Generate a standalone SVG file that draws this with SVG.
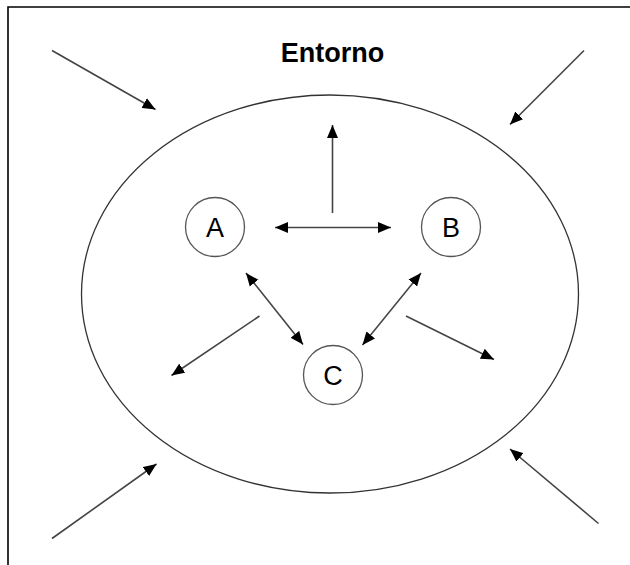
<svg xmlns="http://www.w3.org/2000/svg" width="630" height="565" viewBox="0 0 630 565">
<defs>
<marker id="ah" markerUnits="userSpaceOnUse" markerWidth="14" markerHeight="12" refX="13" refY="6" orient="auto-start-reverse" viewBox="0 0 14 12">
<path d="M0,0.5 L13,6 L0,11.5 Z" fill="#000"/>
</marker>
<style>
.c{fill:#fff;stroke:#555;stroke-width:1.3}
.t{font-family:"Liberation Sans",Arial,sans-serif;font-size:27px;fill:#000;text-anchor:middle}
.a{stroke:#444;stroke-width:1.6;fill:none;marker-end:url(#ah)}
.d{marker-start:url(#ah)}
</style>
</defs>
<rect width="630" height="565" fill="#fff"/>
<g id="frame" fill="none" stroke="#000" stroke-width="1.6">
<path d="M8,565 V7 H630"/>
</g>
<g id="entorno">
<text x="332.5" y="62" class="t" style="font-weight:bold;font-size:27px">Entorno</text>
<ellipse cx="330" cy="294" rx="248.5" ry="199" fill="none" stroke="#333" stroke-width="1.3"/>
</g>
<g id="node-a"><circle cx="215" cy="227" r="29.5" class="c"/><text x="215" y="236.8" class="t">A</text></g>
<g id="node-b"><circle cx="451" cy="227" r="29.5" class="c"/><text x="451" y="236.8" class="t">B</text></g>
<g id="node-c"><circle cx="333" cy="375" r="29.5" class="c"/><text x="333" y="384.8" class="t">C</text></g>
<g id="connectors">
<line class="a" x1="332.5" y1="213" x2="332.5" y2="125"/>
<line class="a d" x1="275" y1="227.5" x2="391" y2="227.5"/>
<line class="a d" x1="246" y1="273" x2="303" y2="344.5"/>
<line class="a d" x1="421" y1="273" x2="362.5" y2="345"/>
<line class="a" x1="259.5" y1="316" x2="171.5" y2="375.5"/>
<line class="a" x1="406" y1="316" x2="494" y2="359.5"/>
<line class="a" x1="52" y1="50.5" x2="155.5" y2="109.5"/>
<line class="a" x1="584" y1="50.5" x2="510" y2="124.5"/>
<line class="a" x1="52" y1="538.5" x2="156.5" y2="464"/>
<line class="a" x1="598.5" y1="523.5" x2="510" y2="449"/>
</g>
</svg>
